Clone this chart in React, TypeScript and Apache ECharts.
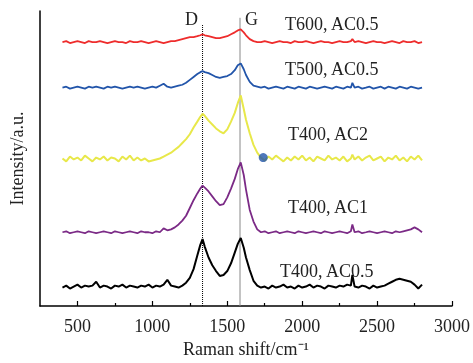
import React, { useEffect, useRef } from "react";
import * as echarts from "echarts";

// Raman shift sampling (cm^-1)
const shift = [
  400, 425, 450, 475, 500, 525, 550, 575, 600, 625,
  650, 675, 700, 725, 750, 775, 800, 825, 850, 875,
  900, 925, 950, 975, 1000, 1025, 1050, 1075, 1100, 1125,
  1150, 1175, 1200, 1225, 1250, 1275, 1300, 1320, 1335, 1350,
  1375, 1400, 1425, 1450, 1475, 1500, 1525, 1550, 1570, 1590,
  1610, 1625, 1650, 1675, 1700, 1725, 1750, 1775, 1800, 1825,
  1850, 1875, 1900, 1925, 1950, 1975, 2000, 2025, 2050, 2075,
  2100, 2125, 2150, 2175, 2200, 2225, 2250, 2275, 2300, 2325,
  2335, 2350, 2375, 2400, 2425, 2450, 2475, 2500, 2525, 2550,
  2575, 2600, 2625, 2650, 2675, 2700, 2725, 2750, 2775, 2800,
];

// Stacked intensities (arbitrary units, offset per spectrum)
const t600ac05 = [
  272, 273, 271, 272, 273, 272, 271, 273, 272, 272,
  273, 272, 271, 272, 273, 272, 272, 271, 273, 272,
  272, 273, 272, 271, 272, 273, 272, 271, 272, 273,
  273, 274, 275, 276, 277, 277, 278, 279, 280, 279,
  278, 277, 276, 276, 277, 278, 280, 282, 284, 285,
  282, 279, 275, 273, 272, 272, 273, 272, 271, 272,
  273, 272, 272, 271, 273, 272, 272, 273, 272, 271,
  272, 273, 272, 272, 271, 272, 273, 272, 272, 273,
  275, 272, 273, 272, 271, 272, 273, 272, 272, 271,
  272, 273, 272, 271, 273, 272, 272, 273, 271, 272,
];
const t500ac05 = [
  225, 226, 224, 225, 226, 225, 224, 226, 225, 226,
  225, 224, 226, 225, 226, 225, 224, 225, 226, 225,
  226, 225, 224, 225, 226, 225, 227, 229, 226, 225,
  226, 227, 228, 230, 233, 236, 239, 241, 242, 241,
  240, 238, 236, 235, 236, 237, 239, 243, 248, 250,
  244, 238, 231, 227, 226, 225, 226, 224, 225, 226,
  225, 224, 226, 225, 224, 226, 225, 224, 226, 225,
  224, 225, 226, 225, 224, 226, 225, 224, 226, 225,
  230, 225, 226, 224, 225, 226, 224, 225, 226, 224,
  226, 225, 224, 226, 225, 224, 226, 225, 224, 225,
];
const t400ac2 = [
  152, 149, 154, 151, 153, 150, 155, 152, 149, 153,
  151, 154, 150, 153, 152, 149, 154, 151, 155, 150,
  153, 150, 152, 149, 150, 151, 152, 154, 156, 158,
  161, 164, 168, 172, 177, 184, 190, 195, 198, 196,
  191, 187, 183, 180, 178, 182, 190, 199, 209, 217,
  203, 192, 178, 166, 158, 153, 150, 154, 151, 155,
  152, 149, 153, 150, 154, 151, 155, 150, 153, 149,
  154, 152, 150, 155, 151, 153, 150, 154, 149, 152,
  156, 151, 154, 150, 153, 155, 150, 152, 154, 149,
  153, 151, 155, 150, 153, 149, 154, 151, 155, 150,
];
const t400ac1 = [
  76, 77, 75, 76, 77, 76, 75, 77, 76, 75,
  76, 77, 76, 75, 77, 76, 75, 76, 77, 76,
  75, 77, 76, 76, 75, 77, 76, 80, 78, 79,
  81, 84, 88, 93, 101, 109, 116, 121, 124, 122,
  118, 113, 108, 104, 105, 112, 121, 131, 141, 148,
  135, 120, 99, 87, 79, 76, 77, 75, 76, 77,
  75, 76, 77, 76, 75, 77, 76, 75, 76, 77,
  76, 75, 77, 76, 75, 76, 77, 76, 75, 77,
  84, 76, 77, 75, 76, 77, 76, 75, 76, 77,
  76, 75, 77, 76, 77, 78, 79, 81, 79, 76,
];
const t400ac05 = [
  19, 21, 18, 20, 22, 19, 21, 20, 21, 25,
  19, 21, 20, 18, 21, 20, 22, 19, 21, 20,
  19, 21, 20, 22, 19, 21, 20, 22, 27, 21,
  20, 19, 21, 24, 29, 38, 52, 63, 69, 61,
  50, 42, 36, 31, 32, 36, 44, 55, 64, 70,
  60, 50, 37, 26, 21, 19, 20, 18, 21, 19,
  20, 22, 19, 20, 18, 21, 19, 20, 22, 19,
  21, 20, 18, 21, 20, 19, 21, 20, 22, 21,
  32, 20, 19, 21, 20, 18, 21, 19, 20, 21,
  23, 25, 27, 28, 27, 26, 25, 22, 18, 22,
];

const seriesNames = ["T600, AC0.5", "T500, AC0.5", "T400, AC2", "T400, AC1", "T400, AC0.5"];
const seriesValues = [t600ac05, t500ac05, t400ac2, t400ac1, t400ac05];
const seriesColors = ["#ee2c2c", "#2255aa", "#e8e84a", "#7b2a86", "#000000"];
const seriesWidths = [1.8, 1.8, 2, 1.8, 2];

const majorTicks = [500, 1000, 1500, 2000, 2500, 3000];
const minorTicks = [750, 1250, 1750, 2250, 2750];

const dBand = 1335;
const gBand = 1585;
const marker = [1740, 153];

const FONT = "'Liberation Serif', 'Times New Roman', serif";

export default function App() {
  const ref = useRef<HTMLDivElement>(null);
  useEffect(() => {
    if (!ref.current) return;
    const chart = echarts.init(ref.current, null, { renderer: "svg" });
    const lines = seriesValues.map((vals, i) => ({
      type: "line",
      name: seriesNames[i],
      data: shift.map((x, j) => [x, vals[j]]),
      showSymbol: false,
      symbol: "none",
      lineStyle: { color: seriesColors[i], width: seriesWidths[i] },
      z: 3,
    }));
    const labelPos = [
      [285, 33],
      [285, 78],
      [288, 143],
      [288, 216],
      [280, 280],
    ];
    chart.setOption({
      animation: false,
      grid: { left: 36, right: 21, top: 11, bottom: 48 },
      xAxis: [
        {
          type: "value",
          min: 250,
          max: 3000,
          name: "Raman shift/cm⁻¹",
          nameLocation: "middle",
          nameGap: 34,
          nameTextStyle: { fontFamily: FONT, fontSize: 18, color: "#222" },
          axisLine: { show: true, lineStyle: { color: "#000", width: 1.5 } },
          axisTick: { show: true, inside: true, length: 5, customValues: majorTicks, lineStyle: { color: "#000", width: 1.2 } },
          axisLabel: {
            customValues: majorTicks,
            formatter: (v: number) => String(v),
            fontFamily: FONT,
            fontSize: 18,
            color: "#222",
            margin: 11,
          },
          splitLine: { show: false },
        },
        {
          type: "value",
          min: 250,
          max: 3000,
          position: "bottom",
          axisLine: { show: false },
          axisTick: { show: true, inside: true, length: 3, customValues: minorTicks, lineStyle: { color: "#000", width: 1.2 } },
          axisLabel: { show: false },
          splitLine: { show: false },
        },
      ],
      yAxis: {
        type: "value",
        min: 0,
        max: 304,
        name: "Intensity/a.u.",
        nameLocation: "middle",
        nameGap: 14,
        nameTextStyle: { fontFamily: FONT, fontSize: 18, color: "#222" },
        axisLine: { show: true, lineStyle: { color: "#000", width: 1.5 } },
        axisTick: { show: false },
        axisLabel: { show: false },
        splitLine: { show: false },
      },
      series: [
        {
          type: "line",
          data: [[dBand, 0], [dBand, 290]],
          symbol: "none",
          lineStyle: { color: "#000", width: 1, type: [1, 1] },
          z: 2,
        },
        {
          type: "line",
          data: [[gBand, 0], [gBand, 297]],
          symbol: "none",
          lineStyle: { color: "#888", width: 1 },
          z: 2,
        },
        ...lines,
        {
          type: "scatter",
          data: [marker],
          symbolSize: 9,
          itemStyle: { color: "#2255aa" },
          z: 5,
        },
      ],
      graphic: [
        ...seriesNames.map((n, i) => ({
          type: "text",
          x: labelPos[i][0],
          y: labelPos[i][1],
          style: { text: n, fontFamily: FONT, fontSize: 18, fill: "#222", textVerticalAlign: "bottom" },
        })),
        { type: "text", x: 185, y: 28, style: { text: "D", fontFamily: FONT, fontSize: 18, fill: "#222", textVerticalAlign: "bottom" } },
        { type: "text", x: 245, y: 28, style: { text: "G", fontFamily: FONT, fontSize: 18, fill: "#222", textVerticalAlign: "bottom" } },
      ],
    });
    return () => chart.dispose();
  }, []);
  return <div ref={ref} style={{ position: "fixed", left: 0, top: 0, width: 473, height: 363 }} />;
}
